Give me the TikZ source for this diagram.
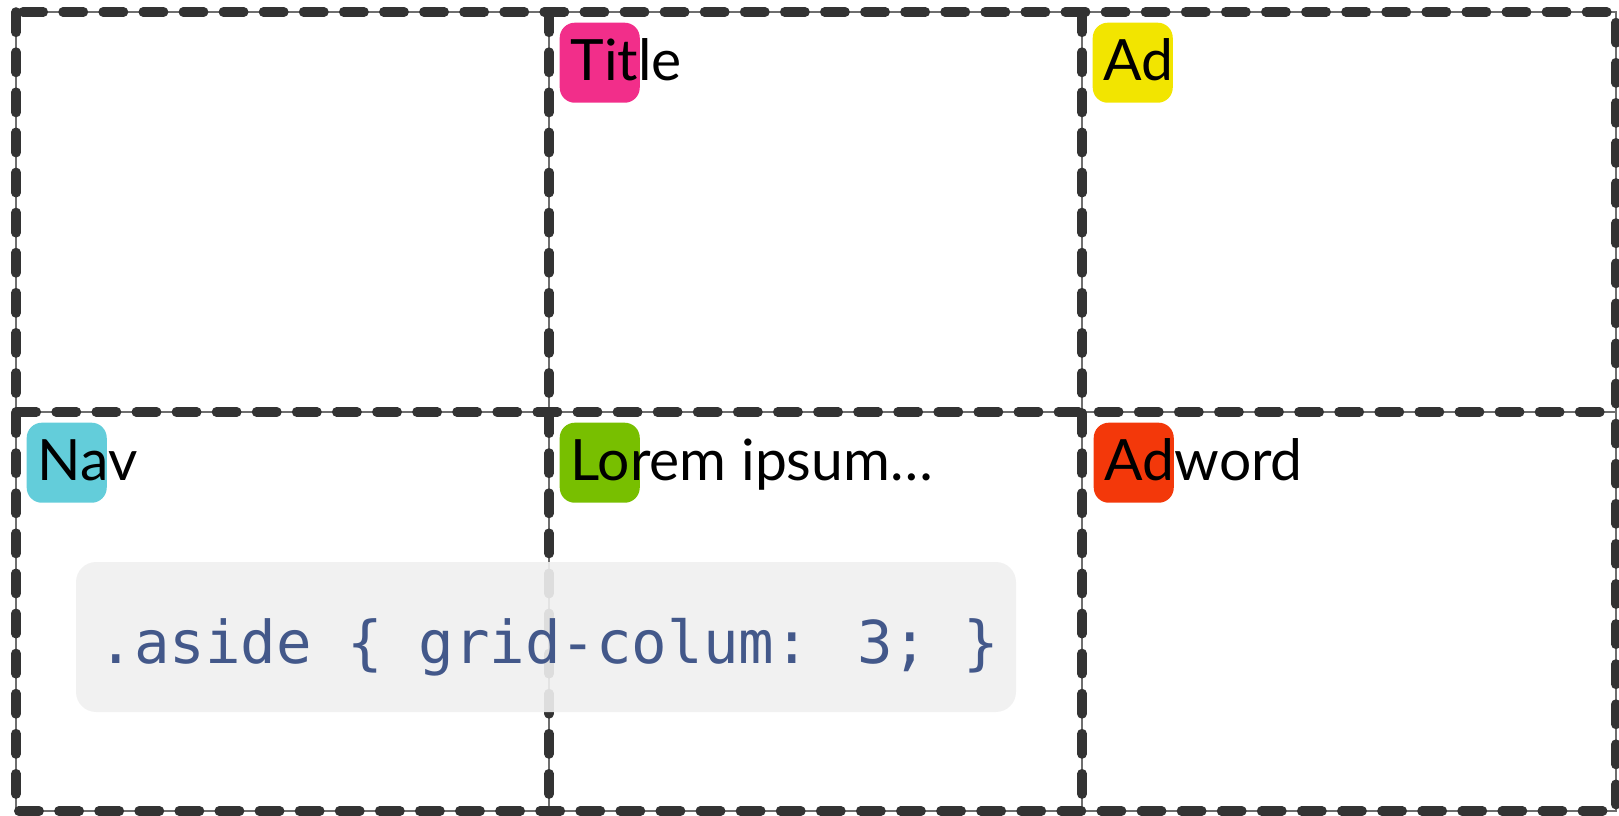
\documentclass[tikz,border=0pt]{standalone}
\usepackage{fontspec}
\setmainfont{Lato}
\newfontfamily\codefont{DejaVu Sans Mono}
\definecolor{gridc}{RGB}{51,51,51}
\definecolor{thinc}{RGB}{110,110,110}
\definecolor{titlec}{RGB}{242,46,138}
\definecolor{adc}{RGB}{242,229,0}
\definecolor{navc}{RGB}{99,205,218}
\definecolor{loremc}{RGB}{120,191,0}
\definecolor{adwordc}{RGB}{243,56,10}
\definecolor{codebg}{RGB}{240,240,240}
\definecolor{codefg}{RGB}{67,88,138}
\tikzset{
  thinline/.style={line width=0.35pt, thinc},
  gridline/.style={line width=2.7pt, gridc, dash pattern=on 5.8pt off 5.6pt,
    line cap=round, line join=round},
  badge/.style={anchor=north west, inner sep=0pt, minimum width=0.8cm,
    minimum height=0.8cm, rounded corners=4.3pt},
  lbl/.style={anchor=base west, inner sep=0pt, font=\fontsize{16.2pt}{18pt}\selectfont},
  codebox/.style={fill=codebg, fill opacity=0.9, rounded corners=5.7pt}
}
\begin{document}
\begin{tikzpicture}[x=0.01cm,y=-0.01cm]
  \useasboundingbox (0,0) rectangle (1619,816);
  % grid corners
  \coordinate (tl) at (16,12);
  \coordinate (br) at (1616,811);
  % thin guide lines
  \draw[thinline] (tl) rectangle (br);
  \draw[thinline] (16,412) -- (1616,412);
  \draw[thinline] (549,12) -- (549,811);
  \draw[thinline] (1082,12) -- (1082,811);
  % dashed grid
  \draw[gridline] (tl) rectangle (br);
  \draw[gridline] (16,412) -- (1616,412);
  \draw[gridline] (549,12) -- (549,811);
  \draw[gridline] (1082,12) -- (1082,811);
  % badges
  \node[badge, fill=titlec] (title) at (559,22) {};
  \node[badge, fill=adc] (ad) at (1092,22) {};
  \node[badge, fill=navc] (nav) at (26,422) {};
  \node[badge, fill=loremc] (lorem) at (559,422) {};
  \node[badge, fill=adwordc] (adword) at (1093,422) {};
  % labels
  \node[lbl] (titlelbl) at ([shift={(11,59)}]title.north west) {Title};
  \node[lbl] (adlbl) at ([shift={(11,59)}]ad.north west) {Ad};
  \node[lbl] (navlbl) at ([shift={(11,59)}]nav.north west) {Nav};
  \node[lbl] (loremlbl) at ([shift={(11,59)}]lorem.north west) {Lorem ipsum…};
  \node[lbl] (adwordlbl) at ([shift={(11,59)}]adword.north west) {Adword};
  % code sample
  \fill[codebox] (76,562) rectangle (1016,712);
  \node[anchor=base, inner sep=0pt, text=codefg,
    font=\codefont\fontsize{16.8pt}{20pt}\selectfont] (code) at (549,663)
    {.aside \{ grid-colum: 3; \}};
\end{tikzpicture}
\end{document}
